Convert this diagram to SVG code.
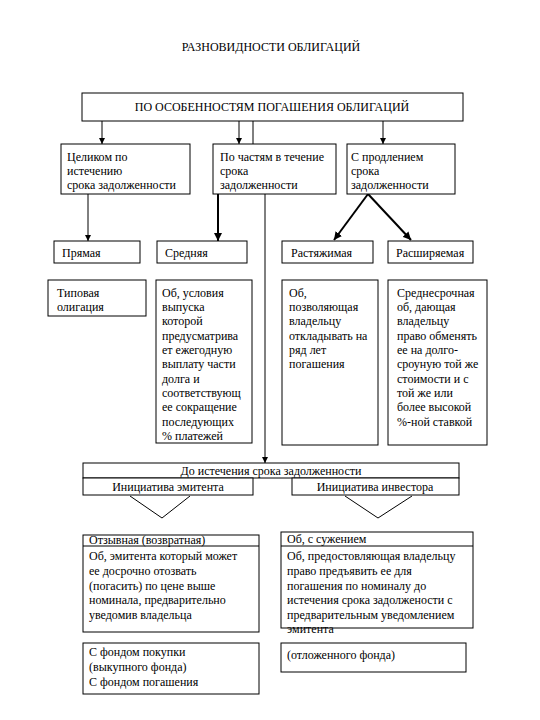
<svg xmlns="http://www.w3.org/2000/svg" width="540" height="720" viewBox="0 0 540 720">
<defs>
<marker id="ah" viewBox="0 0 10 10" refX="10" refY="5" markerWidth="6" markerHeight="6" markerUnits="userSpaceOnUse" orient="auto"><path d="M0,0 L10,5 L0,10 z" fill="#000"/></marker>
<marker id="ah2" viewBox="0 0 10 10" refX="10" refY="5" markerWidth="4" markerHeight="4" orient="auto"><path d="M0,0 L10,5 L0,10 z" fill="#000"/></marker>
</defs>
<style>
text{font-size:12px;fill:#000}
.c{text-anchor:middle}
rect{fill:#fff;stroke:#000;stroke-width:1}
.ln{stroke:#000;stroke-width:1;fill:none}
.tk{stroke:#000;stroke-width:2;fill:none}
</style>
<rect x="0" y="0" width="540" height="720" style="stroke:none"/>
<g font-family="'Liberation Serif', 'DejaVu Serif', serif">
<text class="c" x="271" y="51">РАЗНОВИДНОСТИ ОБЛИГАЦИЙ</text>
<g id="connectors">
<line class="ln" x1="102" y1="121" x2="102" y2="144" marker-end="url(#ah)"/>
<line class="ln" x1="239" y1="121" x2="239" y2="144" marker-end="url(#ah)"/>
<line class="ln" x1="253" y1="121" x2="253" y2="144"/>
<line class="ln" x1="383" y1="121" x2="383" y2="144" marker-end="url(#ah)"/>
<line class="ln" x1="88" y1="194" x2="88" y2="241" marker-end="url(#ah)"/>
<line class="tk" x1="218" y1="194" x2="218" y2="241" marker-end="url(#ah2)"/>
<line class="tk" x1="368" y1="194" x2="334" y2="240" marker-end="url(#ah2)"/>
<line class="tk" x1="368" y1="194" x2="411" y2="240" marker-end="url(#ah2)"/>
<line class="ln" x1="265" y1="194" x2="265" y2="463" marker-end="url(#ah)"/>
<polyline class="ln" points="130,496 162,518 190,496"/>
<polyline class="ln" points="345,496 378,518 412,496"/>
</g>
<g id="n-top"><rect x="82" y="93" width="381" height="28"/><text class="c" x="272" y="111">ПО ОСОБЕННОСТЯМ ПОГАШЕНИЯ ОБЛИГАЦИЙ</text></g>
<g id="n-full"><rect x="61" y="144" width="129" height="50"/><text x="67" y="161">Целиком по</text><text x="67" y="175">истечению</text><text x="67" y="189"> срока задолженности</text></g>
<g id="n-parts"><rect x="213" y="144" width="123" height="50"/><text x="220" y="161">По частям в течение</text><text x="220" y="175">срока</text><text x="220" y="189">задолженности</text></g>
<g id="n-ext"><rect x="347" y="144" width="108" height="50"/><text x="351" y="161">С продлением</text><text x="351" y="175">срока</text><text x="351" y="189">задолженности</text></g>
<g id="n-direct"><rect x="54" y="241" width="86" height="22"/><text x="62" y="257">Прямая</text></g>
<g id="n-avg"><rect x="157" y="241" width="90" height="22"/><text x="165" y="257">Средняя</text></g>
<g id="n-stretch"><rect x="282" y="241" width="91" height="22"/><text x="291" y="257">Растяжимая</text></g>
<g id="n-widen"><rect x="388" y="241" width="85" height="22"/><text x="396" y="257">Расширяемая</text></g>
<g id="n-typ"><rect x="48" y="280" width="98" height="36"/><text x="57" y="297">Типовая</text><text x="57" y="311">олигация</text></g>
<g id="n-avg-d"><rect x="156" y="280" width="96" height="163"/>
<text x="162" y="297">Об, условия</text><text x="162" y="311">выпуска</text><text x="162" y="325">которой</text><text x="162" y="340">предусматрива</text><text x="162" y="354">ет ежегодную</text><text x="162" y="368">выплату части</text><text x="162" y="383">долга и</text><text x="162" y="397">соответствующ</text><text x="162" y="411">ее сокращение</text><text x="162" y="426">последующих</text><text x="162" y="440">% платежей</text></g>
<g id="n-stretch-d"><rect x="282" y="280" width="96" height="165"/>
<text x="289" y="297">Об,</text><text x="289" y="311">позволяющая</text><text x="289" y="325">владельцу</text><text x="289" y="340">откладывать на</text><text x="289" y="354">ряд лет</text><text x="289" y="368">погашения</text></g>
<g id="n-widen-d"><rect x="388" y="280" width="99" height="165"/>
<text x="397" y="297">Среднесрочная</text><text x="397" y="311">об, дающая</text><text x="397" y="325">владельцу</text><text x="397" y="340">право обменять</text><text x="397" y="354">ее на долго-</text><text x="397" y="368">сроуную той же</text><text x="397" y="383">стоимости и с</text><text x="397" y="397">той же или</text><text x="397" y="411">более высокой</text><text x="397" y="426">%-ной ставкой</text></g>
<g id="n-before"><rect x="83" y="463" width="376" height="15"/><text class="c" x="271" y="475">До истечения срока задолженности</text>
<rect x="83" y="478" width="170" height="17"/><text class="c" x="168" y="491">Инициатива эмитента</text>
<rect x="292" y="478" width="167" height="17"/><text class="c" x="375" y="491">Инициатива инвестора</text></g>
<g id="n-call"><rect x="83" y="535" width="176" height="97"/><line class="ln" x1="83" y1="546" x2="259" y2="546"/>
<text x="89" y="544">Отзывная (возвратная)</text><text x="89" y="560">Об, эмитента который может</text><text x="89" y="575">ее досрочно отозвать</text><text x="89" y="590">(погасить) по цене выше</text><text x="89" y="604">номинала, предварительно</text><text x="89" y="619">уведомив владельца</text></g>
<g id="n-put"><rect x="281" y="532" width="192" height="96"/><line class="ln" x1="281" y1="546" x2="473" y2="546"/>
<text x="287" y="543">Об, с сужением</text><text x="287" y="560">Об, предостовляющая владельцу</text><text x="287" y="575">право предъявить ее для</text><text x="287" y="590">погашения по номиналу до</text><text x="287" y="604">истечения срока задолжености с</text><text x="287" y="619">предварительным уведомлением</text><text x="287" y="633">эмитента</text></g>
<g id="n-fund"><rect x="83" y="643" width="176" height="51"/><text x="89" y="656">С фондом покупки</text><text x="89" y="671">(выкупного фонда)</text><text x="89" y="686">С фондом погашения</text></g>
<g id="n-defer"><rect x="281" y="643" width="185" height="29"/><text x="287" y="659">(отложенного фонда)</text></g>
</g>
</svg>
